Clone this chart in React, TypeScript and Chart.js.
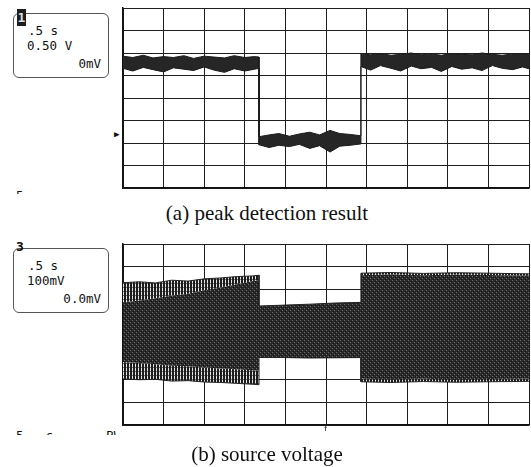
import React, { useEffect, useRef } from "react";
import { Chart, registerables } from "chart.js";

Chart.register(...registerables);

// ---------- data (time in s, 0.5 s/div) ----------
const timeMin = 0;
const timeMax = 5;
const timeStep = 0.5;

// (a) peak detection result, volts (0.50 V/div)
const topTimes = [
  0, 0.12, 0.25, 0.37, 0.5, 0.62, 0.75, 0.87, 1.0, 1.12, 1.25, 1.37, 1.5, 1.62, 1.675,
  1.675, 1.8, 1.92, 2.05, 2.17, 2.3, 2.42, 2.55, 2.67, 2.8, 2.93,
  2.93, 3.05, 3.17, 3.3, 3.42, 3.55, 3.67, 3.8, 3.92, 4.05, 4.17, 4.3, 4.42, 4.55, 4.67, 4.8, 4.92, 5.0,
];
const topUpper = [
  0.93, 0.9, 0.95, 0.89, 0.92, 0.9, 0.94, 0.88, 0.93, 0.91, 0.89, 0.94, 0.9, 0.92, 0.91,
  -0.86, -0.82, -0.79, -0.85, -0.8, -0.76, -0.82, -0.72, -0.79, -0.81, -0.84,
  0.98, 0.96, 0.99, 0.95, 0.97, 1.0, 0.96, 0.98, 0.95, 0.99, 0.97, 0.96, 1.0, 0.97, 0.95, 0.98, 0.99, 0.96,
];
const topLower = [
  0.66, 0.6, 0.68, 0.63, 0.58, 0.67, 0.64, 0.61, 0.69, 0.62, 0.57, 0.65, 0.6, 0.64, 0.66,
  -1.04, -1.1, -1.05, -1.08, -1.03, -1.12, -1.06, -1.2, -1.07, -1.05, -1.02,
  0.7, 0.62, 0.72, 0.66, 0.6, 0.71, 0.65, 0.68, 0.59, 0.7, 0.64, 0.67, 0.61, 0.72, 0.66, 0.63, 0.69, 0.65,
];

// (b) source voltage envelope, mV (100 mV/div)
const bottomTimes = [
  0, 0.2, 0.4, 0.6, 0.8, 1.0, 1.2, 1.4, 1.6, 1.675,
  1.675, 2.0, 2.3, 2.6, 2.93,
  2.93, 3.3, 3.7, 4.1, 4.5, 5.0,
];
const bottomOuterUpper = [229, 233, 228, 240, 236, 246, 250, 256, 259, 262, 126, 130, 134, 139, 142, 271, 274, 270, 273, 271, 268];
const bottomInnerUpper = [142, 150, 160, 172, 180, 196, 208, 222, 236, 240, 126, 130, 134, 139, 142, 262, 266, 262, 265, 263, 260];
const bottomInnerLower = [-122, -126, -132, -138, -140, -146, -150, -154, -158, -160, -100, -102, -104, -103, -102, -196, -198, -196, -199, -197, -196];
const bottomOuterLower = [-196, -200, -198, -206, -204, -210, -212, -216, -220, -222, -100, -102, -104, -103, -102, -209, -212, -208, -211, -209, -207];

const topInfo = [".5 s", "0.50 V", "0mV"];
const bottomInfo = [".5 s", "100mV", "0.0mV"];
const captionA = "(a) peak detection result";
const captionB = "(b) source voltage";

// ---------- helpers ----------
const pts = (xs: number[], ys: number[]) => xs.map((x, i) => ({ x, y: ys[i] }));

function makePattern(kind: "stripe" | "dense"): CanvasPattern | string {
  const c = document.createElement("canvas");
  const ctx = c.getContext("2d");
  if (!ctx) return "#333";
  if (kind === "stripe") {
    c.width = 3;
    c.height = 4;
    ctx.fillStyle = "#e6e6e6";
    ctx.fillRect(0, 0, 3, 4);
    ctx.fillStyle = "#1c1c1c";
    ctx.fillRect(0, 0, 2, 4);
    ctx.fillStyle = "#777";
    ctx.fillRect(2, 1, 1, 1);
  } else {
    c.width = 4;
    c.height = 4;
    ctx.fillStyle = "#2a2a2a";
    ctx.fillRect(0, 0, 4, 4);
    ctx.fillStyle = "#6a6a6a";
    ctx.fillRect(1, 0, 1, 1);
    ctx.fillRect(3, 2, 1, 1);
    ctx.fillStyle = "#111";
    ctx.fillRect(0, 1, 1, 1);
    ctx.fillRect(2, 3, 1, 1);
  }
  return ctx.createPattern(c, "repeat") || "#333";
}

function scaleOpts(min: number, max: number, step: number) {
  return {
    type: "linear" as const,
    min,
    max,
    ticks: { display: false, stepSize: step },
    grid: { color: "#1e1e1e", lineWidth: 1, drawTicks: false },
    border: { display: true, color: "#111", width: 1.5 },
  };
}

function baseOptions(yMin: number, yMax: number, yStep: number) {
  return {
    responsive: false,
    animation: false as const,
    layout: { padding: 2 },
    plugins: { legend: { display: false }, tooltip: { enabled: false } },
    elements: { point: { radius: 0 }, line: { tension: 0 } },
    scales: {
      x: scaleOpts(timeMin, timeMax, timeStep),
      y: scaleOpts(yMin, yMax, yStep),
    },
  };
}

const mono = '"DejaVu Sans Mono", "Liberation Mono", monospace';
const serif = '"Liberation Serif", "Times New Roman", serif';

function Txt(props: { x: number; y: number; text: string; right?: boolean; size?: number; font?: string; weight?: number }) {
  const { x, y, text, right, size = 12.5, font = mono, weight = 400 } = props;
  const lh = Math.round(size * 1.2);
  return (
    <div
      style={{
        position: "absolute",
        top: y - lh / 2,
        left: right ? undefined : x,
        right: right ? 531 - x : undefined,
        fontFamily: font,
        fontSize: size,
        lineHeight: lh + "px",
        fontWeight: weight,
        color: "#111",
        whiteSpace: "pre",
      }}
    >
      {text}
    </div>
  );
}

function InfoBox(props: { top: number; lines: string[] }) {
  const { top, lines } = props;
  return (
    <>
      <div
        style={{
          position: "absolute",
          left: 13,
          top,
          width: 96,
          height: 65,
          border: "1px solid #555",
          borderRadius: 6,
          boxSizing: "border-box",
        }}
      />
      <Txt x={28} y={top + 17} text={lines[0]} />
      <Txt x={27} y={top + 32} text={lines[1]} />
      <Txt x={101} y={top + 50} text={lines[2]} right />
    </>
  );
}

export default function App() {
  const topRef = useRef<HTMLCanvasElement>(null);
  const botRef = useRef<HTMLCanvasElement>(null);

  useEffect(() => {
    const stripe = makePattern("stripe");
    const dense = makePattern("dense");
    const charts: Chart[] = [];
    if (topRef.current) {
      charts.push(
        new Chart(topRef.current, {
          type: "line",
          data: {
            datasets: [
              { data: pts(topTimes, topUpper), borderColor: "#1a1a1a", borderWidth: 1, fill: false },
              { data: pts(topTimes, topLower), borderColor: "#1a1a1a", borderWidth: 1, fill: "-1", backgroundColor: "#262626" },
            ],
          },
          options: baseOptions(-2, 2, 0.5) as any,
        })
      );
    }
    if (botRef.current) {
      charts.push(
        new Chart(botRef.current, {
          type: "line",
          data: {
            datasets: [
              { data: pts(bottomTimes, bottomOuterUpper), borderColor: "#222", borderWidth: 1, fill: false },
              { data: pts(bottomTimes, bottomInnerUpper), borderWidth: 0, borderColor: "rgba(0,0,0,0)", fill: "-1", backgroundColor: stripe as any },
              { data: pts(bottomTimes, bottomInnerLower), borderWidth: 0, borderColor: "rgba(0,0,0,0)", fill: "-1", backgroundColor: dense as any },
              { data: pts(bottomTimes, bottomOuterLower), borderColor: "#222", borderWidth: 1, fill: "-1", backgroundColor: stripe as any },
            ],
          },
          options: baseOptions(-400, 400, 100) as any,
        })
      );
    }
    return () => charts.forEach((c) => c.destroy());
  }, []);

  return (
    <div style={{ position: "absolute", left: 0, top: 0, width: 531, height: 467, background: "#fff", overflow: "hidden" }}>
      <canvas ref={topRef} width={410} height={184} style={{ position: "absolute", left: 121, top: 6 }} />
      <canvas ref={botRef} width={410} height={185} style={{ position: "absolute", left: 121, top: 242 }} />

      {/* (a) scope info */}
      <InfoBox top={13} lines={topInfo} />
      <div
        style={{
          position: "absolute",
          left: 17,
          top: 9,
          width: 9,
          height: 17,
          background: "#1e1e1e",
          color: "#ddd",
          fontFamily: mono,
          fontWeight: 700,
          fontSize: 13,
          lineHeight: "17px",
          textAlign: "center",
        }}
      >
        1
      </div>
      <Txt x={114} y={134} text="▶" size={9} font={mono} />
      <div style={{ position: "absolute", left: 16, top: 190, height: 4, overflow: "hidden" }}>
        <div style={{ fontFamily: mono, fontSize: 12.5, lineHeight: "15px", color: "#111", marginTop: -2 }}>5</div>
      </div>

      <div
        style={{
          position: "absolute",
          left: 0,
          width: 534,
          top: 200,
          textAlign: "center",
          fontFamily: serif,
          fontSize: 21,
          lineHeight: "26px",
          color: "#111",
        }}
      >
        {captionA}
      </div>

      {/* (b) scope info */}
      <InfoBox top={248} lines={bottomInfo} />
      <Txt x={16} y={247} text="3" size={13} weight={700} />
      <div style={{ position: "absolute", left: 16, top: 428, width: 100, height: 7, overflow: "hidden" }}>
        <div style={{ fontFamily: mono, fontSize: 12.5, lineHeight: "15px", color: "#111", whiteSpace: "pre" }}>
          {"5   s       BW"}
        </div>
      </div>
      <Txt x={323} y={428} text="↑" size={9} />

      <div
        style={{
          position: "absolute",
          left: 0,
          width: 534,
          top: 441,
          textAlign: "center",
          fontFamily: serif,
          fontSize: 21,
          lineHeight: "26px",
          color: "#111",
        }}
      >
        {captionB}
      </div>
    </div>
  );
}
